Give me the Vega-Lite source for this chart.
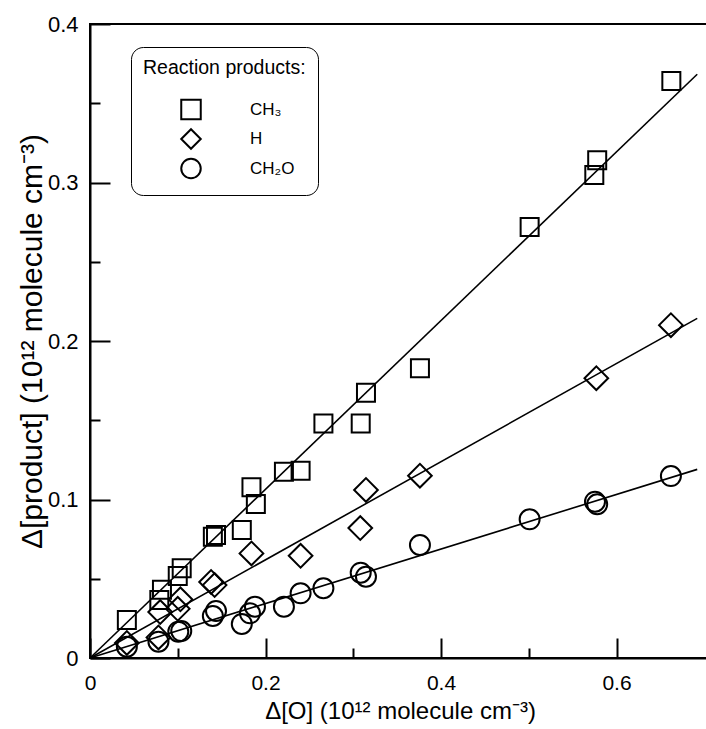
{
  "$schema": "https://vega.github.io/schema/vega-lite/v6.json",
  "width": 620,
  "height": 634,
  "autosize": {"type": "none"},
  "padding": {"left": 90, "top": 24, "right": 0, "bottom": 71},
  "background": "white",
  "config": {
    "view": {"stroke": "black", "strokeWidth": 2},
    "font": "Liberation Sans",
    "axis": {
      "domainColor": "black",
      "domainWidth": 2,
      "tickColor": "black",
      "tickWidth": 2,
      "grid": false,
      "labelFlush": false,
      "labelFont": "Liberation Sans",
      "labelColor": "black",
      "titleFont": "Liberation Sans",
      "titleFontWeight": "normal",
      "titleColor": "black"
    }
  },
  "datasets": {
    "pts": [
      {"k": "CH3", "series": "CH₃", "dO": 0.042, "dP": 0.024},
      {"k": "CH3", "series": "CH₃", "dO": 0.079, "dP": 0.0366},
      {"k": "CH3", "series": "CH₃", "dO": 0.082, "dP": 0.043},
      {"k": "CH3", "series": "CH₃", "dO": 0.100, "dP": 0.0517},
      {"k": "CH3", "series": "CH₃", "dO": 0.1045, "dP": 0.0566},
      {"k": "CH3", "series": "CH₃", "dO": 0.140, "dP": 0.0765},
      {"k": "CH3", "series": "CH₃", "dO": 0.1436, "dP": 0.0776},
      {"k": "CH3", "series": "CH₃", "dO": 0.173, "dP": 0.0808},
      {"k": "CH3", "series": "CH₃", "dO": 0.184, "dP": 0.1077},
      {"k": "CH3", "series": "CH₃", "dO": 0.189, "dP": 0.0972},
      {"k": "CH3", "series": "CH₃", "dO": 0.221, "dP": 0.1175},
      {"k": "CH3", "series": "CH₃", "dO": 0.240, "dP": 0.1182},
      {"k": "CH3", "series": "CH₃", "dO": 0.266, "dP": 0.148},
      {"k": "CH3", "series": "CH₃", "dO": 0.3085, "dP": 0.148},
      {"k": "CH3", "series": "CH₃", "dO": 0.3145, "dP": 0.1674},
      {"k": "CH3", "series": "CH₃", "dO": 0.376, "dP": 0.1828},
      {"k": "CH3", "series": "CH₃", "dO": 0.501, "dP": 0.272},
      {"k": "CH3", "series": "CH₃", "dO": 0.5747, "dP": 0.3047},
      {"k": "CH3", "series": "CH₃", "dO": 0.578, "dP": 0.314},
      {"k": "CH3", "series": "CH₃", "dO": 0.6625, "dP": 0.364},
      {"k": "H", "series": "H", "dO": 0.042, "dP": 0.0095},
      {"k": "H", "series": "H", "dO": 0.078, "dP": 0.013},
      {"k": "H", "series": "H", "dO": 0.080, "dP": 0.029},
      {"k": "H", "series": "H", "dO": 0.100, "dP": 0.031},
      {"k": "H", "series": "H", "dO": 0.103, "dP": 0.037},
      {"k": "H", "series": "H", "dO": 0.138, "dP": 0.048},
      {"k": "H", "series": "H", "dO": 0.142, "dP": 0.046},
      {"k": "H", "series": "H", "dO": 0.184, "dP": 0.066},
      {"k": "H", "series": "H", "dO": 0.240, "dP": 0.0645},
      {"k": "H", "series": "H", "dO": 0.308, "dP": 0.082},
      {"k": "H", "series": "H", "dO": 0.3145, "dP": 0.106},
      {"k": "H", "series": "H", "dO": 0.376, "dP": 0.115},
      {"k": "H", "series": "H", "dO": 0.577, "dP": 0.1765},
      {"k": "H", "series": "H", "dO": 0.662, "dP": 0.210},
      {"k": "CH2O", "series": "CH₂O", "dO": 0.042, "dP": 0.0071},
      {"k": "CH2O", "series": "CH₂O", "dO": 0.078, "dP": 0.0103},
      {"k": "CH2O", "series": "CH₂O", "dO": 0.1006, "dP": 0.0166},
      {"k": "CH2O", "series": "CH₂O", "dO": 0.104, "dP": 0.017},
      {"k": "CH2O", "series": "CH₂O", "dO": 0.140, "dP": 0.0265},
      {"k": "CH2O", "series": "CH₂O", "dO": 0.1436, "dP": 0.0297},
      {"k": "CH2O", "series": "CH₂O", "dO": 0.173, "dP": 0.0215},
      {"k": "CH2O", "series": "CH₂O", "dO": 0.1823, "dP": 0.0282},
      {"k": "CH2O", "series": "CH₂O", "dO": 0.188, "dP": 0.0324},
      {"k": "CH2O", "series": "CH₂O", "dO": 0.221, "dP": 0.0324},
      {"k": "CH2O", "series": "CH₂O", "dO": 0.240, "dP": 0.0408},
      {"k": "CH2O", "series": "CH₂O", "dO": 0.266, "dP": 0.044},
      {"k": "CH2O", "series": "CH₂O", "dO": 0.3085, "dP": 0.0538},
      {"k": "CH2O", "series": "CH₂O", "dO": 0.3145, "dP": 0.0513},
      {"k": "CH2O", "series": "CH₂O", "dO": 0.376, "dP": 0.0713},
      {"k": "CH2O", "series": "CH₂O", "dO": 0.501, "dP": 0.0875},
      {"k": "CH2O", "series": "CH₂O", "dO": 0.5755, "dP": 0.0986},
      {"k": "CH2O", "series": "CH₂O", "dO": 0.578, "dP": 0.097},
      {"k": "CH2O", "series": "CH₂O", "dO": 0.662, "dP": 0.1148}
    ],
    "fits": [
      {"k": "CH3", "dO": 0, "dP": 0},
      {"k": "CH3", "dO": 0.692, "dP": 0.3683},
      {"k": "H", "dO": 0, "dP": 0},
      {"k": "H", "dO": 0.692, "dP": 0.2143},
      {"k": "CH2O", "dO": 0, "dP": 0},
      {"k": "CH2O", "dO": 0.692, "dP": 0.119}
    ]
  },
  "encoding": {
    "x": {
      "field": "dO",
      "type": "quantitative",
      "scale": {"domain": [0, 0.70655], "nice": false, "zero": false},
      "axis": {
        "title": "Δ[O] (10¹² molecule cm⁻³)",
        "titleFontSize": 24,
        "labelFontSize": 21,
        "values": [0, 0.1, 0.2, 0.3, 0.4, 0.5, 0.6],
        "labelExpr": "round(datum.value*10)%2==0 ? (datum.value==0 ? '0' : format(datum.value,'.1f')) : ''",
        "tickSize": {"condition": {"test": "round(datum.value*10)%2==0", "value": -20}, "value": -10},
        "labelPadding": 34,
        "titlePadding": 6
      }
    },
    "y": {
      "field": "dP",
      "type": "quantitative",
      "scale": {"domain": [0, 0.4], "nice": false},
      "axis": {
        "title": "Δ[product] (10¹² molecule cm⁻³)",
        "titleFontSize": 30,
        "labelFontSize": 22,
        "values": [0, 0.05, 0.1, 0.15, 0.2, 0.25, 0.3, 0.35, 0.4],
        "labelExpr": "round(datum.value*100)%10==0 ? (datum.value==0 ? '0' : format(datum.value,'.1f')) : ''",
        "tickSize": {"condition": {"test": "round(datum.value*100)%10==0", "value": -20}, "value": -10},
        "labelPadding": 32,
        "titlePadding": 0
      }
    }
  },
  "layer": [
    {
      "data": {"name": "fits"},
      "mark": {"type": "line", "color": "black", "strokeWidth": 1.6},
      "encoding": {"detail": {"field": "k", "type": "nominal"}}
    },
    {
      "data": {"name": "pts"},
      "transform": [{"filter": "datum.k == 'CH3'"}],
      "mark": {"type": "point", "filled": false, "stroke": "black", "strokeWidth": 2, "size": 324, "opacity": 1},
      "encoding": {"shape": {"field": "series", "type": "nominal"}}
    },
    {
      "data": {"name": "pts"},
      "transform": [{"filter": "datum.k == 'H'"}],
      "mark": {"type": "point", "filled": false, "stroke": "black", "strokeWidth": 2, "size": 560, "opacity": 1},
      "encoding": {"shape": {"field": "series", "type": "nominal"}}
    },
    {
      "data": {"name": "pts"},
      "transform": [{"filter": "datum.k == 'CH2O'"}],
      "mark": {"type": "point", "filled": false, "stroke": "black", "strokeWidth": 2, "size": 400, "opacity": 1},
      "encoding": {
        "shape": {
          "field": "series",
          "type": "nominal",
          "scale": {"domain": ["CH₃", "H", "CH₂O"], "range": ["square", "diamond", "circle"]},
          "legend": {
            "orient": "none",
            "legendX": 41,
            "legendY": 23,
            "title": "Reaction products:",
            "titleFont": "Liberation Sans",
            "titleFontSize": 19.5,
            "titleFontWeight": "normal",
            "titleColor": "black",
            "titlePadding": 20,
            "labelFont": "Liberation Sans",
            "labelFontSize": 17,
            "labelColor": "black",
            "symbolSize": 380,
            "symbolStrokeWidth": 2,
            "symbolStrokeColor": "black",
            "symbolFillColor": "transparent",
            "symbolOffset": 37,
            "labelOffset": 48,
            "rowPadding": 1.5,
            "strokeColor": "black",
            "cornerRadius": 12,
            "padding": 12,
            "fillColor": "white"
          }
        }
      }
    }
  ]
}
